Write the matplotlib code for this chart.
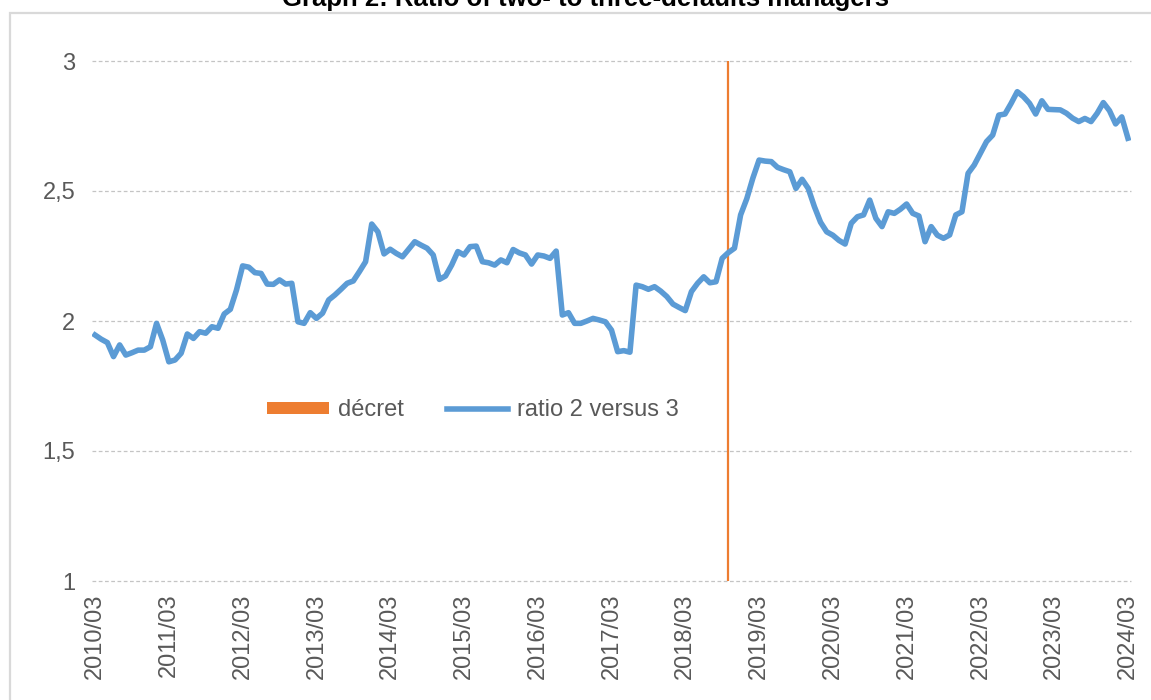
import matplotlib
matplotlib.use("Agg")
import matplotlib.pyplot as plt
from matplotlib.patches import Patch, Rectangle
from matplotlib.lines import Line2D

# monthly ratio, 2010/03 .. 2024/03
ratio = [
    1.946, 1.930, 1.917, 1.863, 1.908, 1.869, 1.878, 1.888, 1.888, 1.901,
    1.991, 1.927, 1.843, 1.850, 1.876, 1.950, 1.933, 1.959, 1.953, 1.978,
    1.972, 2.027, 2.045, 2.119, 2.212, 2.207, 2.186, 2.183, 2.142, 2.141,
    2.158, 2.142, 2.145, 1.997, 1.991, 2.032, 2.010, 2.030, 2.081, 2.100,
    2.122, 2.145, 2.154, 2.190, 2.228, 2.373, 2.343, 2.258, 2.276, 2.260,
    2.247, 2.276, 2.305, 2.292, 2.280, 2.254, 2.160, 2.173, 2.215, 2.267,
    2.254, 2.286, 2.288, 2.228, 2.224, 2.215, 2.235, 2.224, 2.275, 2.262,
    2.254, 2.219, 2.254, 2.250, 2.241, 2.269, 2.023, 2.032, 1.991, 1.991,
    2.000, 2.010, 2.004, 1.997, 1.965, 1.882, 1.886, 1.880, 2.138, 2.132,
    2.122, 2.132, 2.115, 2.094, 2.065, 2.052, 2.040, 2.113, 2.145, 2.170,
    2.147, 2.151, 2.241, 2.263, 2.280, 2.408, 2.470, 2.550, 2.619, 2.615,
    2.613, 2.591, 2.582, 2.574, 2.510, 2.545, 2.510, 2.440, 2.380, 2.343,
    2.330, 2.310, 2.296, 2.376, 2.401, 2.408, 2.465, 2.395, 2.363, 2.420,
    2.414, 2.430, 2.450, 2.414, 2.404, 2.305, 2.363, 2.330, 2.318, 2.331,
    2.408, 2.420, 2.568, 2.600, 2.645, 2.690, 2.715, 2.792, 2.796, 2.837,
    2.882, 2.863, 2.837, 2.796, 2.847, 2.814, 2.813, 2.812, 2.799, 2.780,
    2.767, 2.779, 2.767, 2.799, 2.840, 2.809, 2.758, 2.785, 2.703,
]
start_year, start_month = 2010, 3
months = [f"{start_year + (start_month - 1 + i) // 12}/{(start_month - 1 + i) % 12 + 1:02d}"
          for i in range(len(ratio))]
decret_month = "2018/10"

yticks = [1, 1.5, 2, 2.5, 3]
ytick_labels = ["1", "1,5", "2", "2,5", "3"]

blue = "#5B9BD5"
orange = "#ED7D31"
grey_txt = "#595959"
fnt = "Liberation Sans"

fig = plt.figure(figsize=(11.51, 7), dpi=100)
ax = fig.add_axes([92 / 1151, 1 - 581 / 700, (1131 - 92) / 1151, 520 / 700])

x = list(range(len(ratio)))
ax.plot(x, ratio, color=blue, lw=4.0, solid_joinstyle="round", zorder=3)
ax.axvline(months.index(decret_month), color=orange, lw=1.6, zorder=2)

ax.set_xlim(-0.5, len(ratio) - 0.5)
ax.set_ylim(1, 3)

xt = [i for i, m in enumerate(months) if m.endswith("/03")]
ax.set_xticks(xt)
ax.set_xticklabels([months[i] for i in xt], rotation=90, fontsize=17,
                   color=grey_txt, family=fnt, va="top", ha="center")
ax.set_yticks(yticks)
ax.set_yticklabels(ytick_labels, fontsize=17, color=grey_txt, family=fnt)
ax.tick_params(length=0)
ax.tick_params(axis="y", pad=12)
ax.tick_params(axis="x", pad=9)

for s in ax.spines.values():
    s.set_visible(False)
for v in yticks:
    ax.axhline(v, color="#c4c4c4", lw=0.9, ls=(0, (3, 2)), zorder=1, clip_on=False)

handles = [Patch(facecolor=orange, edgecolor="none"),
           Line2D([0], [0], color=blue, lw=4.0)]
ax.legend(handles, ["décret", "ratio 2 versus 3"], loc="center",
          bbox_to_anchor=(0.367, 0.328), ncol=2, frameon=False,
          prop={"family": fnt, "size": 17}, labelcolor=grey_txt,
          handlelength=2.6, handleheight=0.4, handletextpad=0.4,
          columnspacing=1.8)

# outer chart frame (Excel chart area)
fig.patches.append(Rectangle((10 / 1151, -0.05), 1.2, 1 - 13 / 700 + 0.05,
                             transform=fig.transFigure, fill=False,
                             edgecolor="#d9d9d9", lw=1.6))

# title sits partly above the picture's top edge, as in the source screenshot
fig.text(586 / 1151, 1 - 6 / 700, "Graph 2: Ratio of two- to three-defaults managers",
         ha="center", va="baseline", fontsize=18.5, fontweight="bold",
         family=fnt, color="black")

fig.savefig("out.png", dpi=100, facecolor="white")
